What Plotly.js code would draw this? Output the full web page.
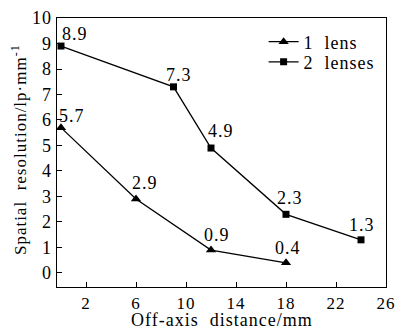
<!DOCTYPE html>
<html><head><meta charset="utf-8">
<script src="https://cdn.plot.ly/plotly-3.0.1.min.js"></script>
<style>html,body{margin:0;padding:0;background:#fff} text{letter-spacing:1px}</style>
</head><body><div id="chart" style="width:397px;height:329px"></div>
<script>
var x1 = [0, 6, 12, 18];
var y1 = [5.7, 2.9, 0.9, 0.4];
var x2 = [0, 9, 12, 18, 24];
var y2 = [8.9, 7.3, 4.9, 2.3, 1.3];
var xTicks = [2, 6, 10, 14, 18, 22, 26];
var yTicks = [0, 1, 2, 3, 4, 5, 6, 7, 8, 9, 10];
var names = ['1  lens', '2  lenses'];
var xTitle = 'Off-axis  distance/mm';
var yTitle = 'Spatial  resolution/lp·mm<sup>-1</sup>';
// label offsets in px (dx, dy)
var off1 = [[11, 12], [9, 16], [6, 15], [2, 15]];
var off2 = [[14, 12], [5, 12], [10, 17], [4, 16], [1, 15]];

var F = '"Liberation Serif", "Times New Roman", serif';
var ann = [];
function addLabels(xs, ys, offs) {
  for (var i = 0; i < xs.length; i++) {
    ann.push({x: xs[i], y: ys[i], xref: 'x', yref: 'y', text: ys[i].toFixed(1),
      showarrow: false, xanchor: 'center', yanchor: 'middle',
      xshift: offs[i][0], yshift: offs[i][1], font: {family: F, size: 18, color: '#000'}});
  }
}
addLabels(x1, y1, off1);
addLabels(x2, y2, off2);
ann.push({xref: 'paper', yref: 'paper', x: -0.1155, y: 0.509, textangle: -90,
  text: yTitle, showarrow: false,
  xanchor: 'center', yanchor: 'middle', font: {family: F, size: 17, color: '#000'}});
ann.push({xref: 'paper', yref: 'paper', x: 0.5, y: -0.121,
  text: xTitle, showarrow: false, borderpad: 0,
  xanchor: 'center', yanchor: 'middle', font: {family: F, size: 18, color: '#000'}});

var traces = [
  {x: x1, y: y1, name: names[0], legend: 'legend', mode: 'lines+markers', type: 'scatter',
   line: {color: '#000', width: 1.3}, marker: {symbol: 'triangle-up', size: 9, color: '#000'}},
  {x: x2, y: y2, name: names[1], legend: 'legend2', mode: 'lines+markers', type: 'scatter',
   line: {color: '#000', width: 1.3}, marker: {symbol: 'square', size: 7, color: '#000'}}
];
var legStyle = function (y) {
  return {x: 0.628, y: y, xanchor: 'left', yanchor: 'middle', bgcolor: 'rgba(0,0,0,0)',
    font: {family: F, size: 18, color: '#000'}};
};
var layout = {
  width: 397, height: 329,
  margin: {l: 57, r: 11, t: 18, b: 42},
  paper_bgcolor: '#fff', plot_bgcolor: '#fff',
  font: {family: F, size: 18, color: '#000'},
  showlegend: true,
  legend: legStyle(0.911),
  legend2: legStyle(0.836),
  xaxis: {range: [-0.32, 26], tickvals: xTicks, ticks: 'inside', ticklen: 5, tickcolor: '#000',
    showline: true, linecolor: '#000', linewidth: 1.3, mirror: true, showgrid: false, zeroline: false,
    tickfont: {family: F, size: 17}},
  yaxis: {range: [-0.55, 10], tickvals: yTicks, ticks: 'inside', ticklen: 5, tickcolor: '#000',
    showline: true, linecolor: '#000', linewidth: 1.3, mirror: true, showgrid: false, zeroline: false,
    tickfont: {family: F, size: 18}},
  annotations: ann
};
Plotly.newPlot('chart', traces, layout, {displayModeBar: false, staticPlot: true});
</script></body></html>
